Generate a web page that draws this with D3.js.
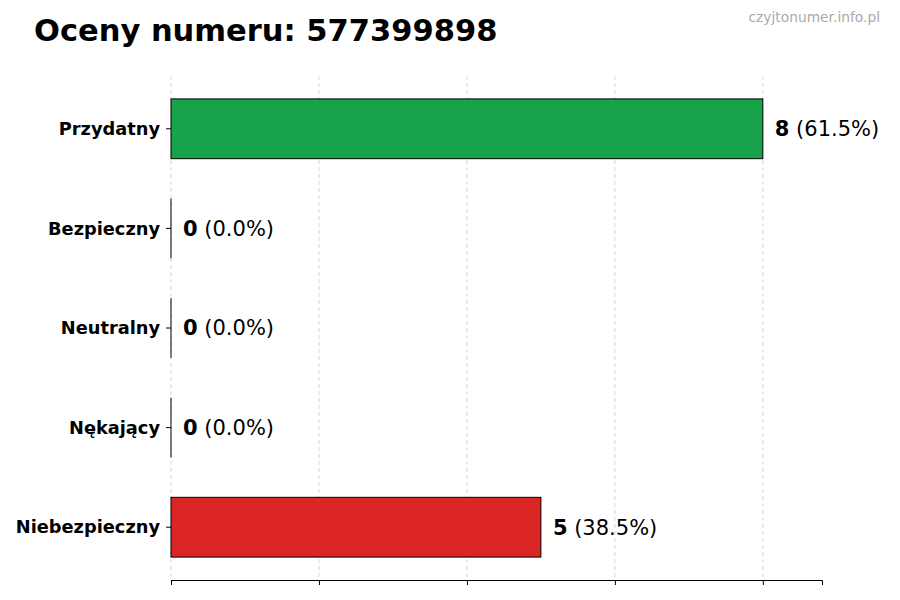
<!DOCTYPE html>
<html><head><meta charset="utf-8">
<script src="https://cdn.jsdelivr.net/npm/d3@7"></script>
<style>body{margin:0;background:#fff}svg{display:block}text{font-family:"DejaVu Sans",sans-serif}</style>
</head><body>
<script>
const categories = ["Przydatny","Bezpieczny","Neutralny","Nękający","Niebezpieczny"];
const values = [8,0,0,0,5];
const percents = ["61.5%","0.0%","0.0%","0.0%","38.5%"];
const colors = ["#16a34a","#16a34a","#9ca3af","#dc2626","#dc2626"];
const xTicks = [0,2,4,6,8];
const title = "Oceny numeru: 577399898";
const watermark = "czyjtonumer.info.pl";

const W=900,H=600;
const svg=d3.select("body").append("svg").attr("width",W).attr("height",H);
const m={l:171,r:822,t:76,b:580};
const x=d3.scaleLinear().domain([0,8.8]).range([m.l,m.r]);
const y=d3.scaleLinear().domain([-0.53,4.53]).range([m.t,m.b]);
const bh=y(0.3)-y(-0.3);

svg.append("text").attr("x",34).attr("y",41).attr("font-size",30.5).attr("font-weight","bold").attr("fill","#000").text(title);
svg.append("text").attr("x",880).attr("y",22).attr("text-anchor","end").attr("font-size",13.8).attr("fill","#aaa").text(watermark);

// grid
svg.append("g").selectAll("line").data(xTicks).join("line")
 .attr("x1",d=>x(d)).attr("x2",d=>x(d)).attr("y1",m.t).attr("y2",m.b)
 .attr("stroke","#ccc").attr("stroke-width",0.8).attr("stroke-dasharray","4,3");

// bars
svg.append("g").selectAll("rect").data(values).join("rect")
 .attr("x",x(0)).attr("y",(d,i)=>y(i)-bh/2).attr("width",d=>x(d)-x(0)).attr("height",bh)
 .attr("fill",(d,i)=>colors[i]).attr("stroke","#000").attr("stroke-width",1);
// zero-width bar edges
svg.append("g").selectAll("line").data(values.map((v,i)=>({v,i})).filter(d=>d.v===0)).join("line")
 .attr("x1",x(0)).attr("x2",x(0)).attr("y1",d=>y(d.i)-bh/2).attr("y2",d=>y(d.i)+bh/2)
 .attr("stroke","#000").attr("stroke-width",1);

// x axis
const xa=d3.axisBottom(x).tickValues(xTicks).tickFormat("").tickSizeOuter(0).tickSize(5);
const gx=svg.append("g").attr("transform",`translate(0,${m.b})`).call(xa);
gx.select(".domain").attr("stroke","#000");
gx.selectAll(".tick line").attr("stroke","#000");

// y ticks
const gy=svg.append("g");
categories.forEach((c,i)=>{
  gy.append("line").attr("x1",m.l-5).attr("x2",m.l).attr("y1",y(i)).attr("y2",y(i)).attr("stroke","#000");
  gy.append("text").attr("x",m.l-11).attr("y",y(i)).attr("dy","0.35em").attr("text-anchor","end")
    .attr("font-size",17.8).attr("font-weight","bold").text(c);
});

// value labels
values.forEach((v,i)=>{
  const t=svg.append("text").attr("x",x(v)+12).attr("y",y(i)).attr("dy","0.35em").attr("font-size",21);
  t.append("tspan").attr("font-weight","bold").text(v);
  t.append("tspan").text(" ("+percents[i]+")");
});
</script>
</body></html>
